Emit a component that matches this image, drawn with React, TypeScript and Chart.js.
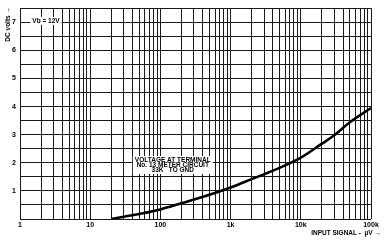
import React, { useEffect, useRef } from "react";
import { Chart, registerables } from "chart.js";

Chart.register(...registerables);

const inputMicroVolts = [20, 30, 50, 100, 200, 500, 1000, 2000, 5000, 10000, 20000, 30000, 50000, 100000];
const dcVolts = [0, 0.08, 0.18, 0.34, 0.56, 0.86, 1.12, 1.42, 1.82, 2.18, 2.68, 2.98, 3.44, 3.95];
const decadeLabels = ["1", "10", "100", "1k", "10k", "100k"];
const yLabels = ["1", "2", "3", "4", "5", "6", "7"];
const noteLines = ["VOLTAGE AT TERMINAL", "No. 13 METER CIRCUIT", "33K   TO GND"];
const supplyNote = "Vb = 12V";
const xTitle = "INPUT SIGNAL -  \u00b5V \u2192";
const yTitle = "DC volts \u2192";

const FONT = "'Liberation Sans', Arial, sans-serif";

const textPlugin = {
  id: "textNotes",
  afterDatasetsDraw(chart: any) {
    const ctx = chart.ctx as CanvasRenderingContext2D;
    const xs = chart.scales.x;
    const ys = chart.scales.y;
    ctx.save();
    ctx.font = `bold 6.5px ${FONT}`;
    ctx.textAlign = "center";
    ctx.textBaseline = "middle";
    const cx = xs.getPixelForValue(150);
    const cy0 = ys.getPixelForValue(2.1);
    const w = Math.max(...noteLines.map((l) => ctx.measureText(l).width)) + 4;
    ctx.fillStyle = "#fff";
    ctx.fillRect(cx - w / 2, cy0 - 4, w, noteLines.length * 5 + 3);
    ctx.fillStyle = "#000";
    noteLines.forEach((l, i) => ctx.fillText(l, cx, cy0 + i * 5));
    ctx.textAlign = "left";
    const sx = xs.getPixelForValue(1.5);
    const sy = ys.getPixelForValue(7.05);
    const sw = ctx.measureText(supplyNote).width;
    ctx.fillStyle = "#fff";
    ctx.fillRect(sx - 2, sy - 4, sw + 4, 8);
    ctx.fillStyle = "#000";
    ctx.fillText(supplyNote, sx, sy);
    ctx.textAlign = "right";
    ctx.fillText(xTitle, 381, 233);
    ctx.translate(8, 7);
    ctx.rotate(-Math.PI / 2);
    ctx.textAlign = "right";
    ctx.fillText(yTitle, 0, 0);
    ctx.restore();
  },
};

export default function App() {
  const ref = useRef<HTMLCanvasElement>(null);
  useEffect(() => {
    const prevMargin = document.body.style.margin;
    document.body.style.margin = "0";
    const xTicks: number[] = [];
    for (let d = 0; d < decadeLabels.length - 1; d++) {
      for (let m = 1; m <= 9; m++) xTicks.push(m * Math.pow(10, d));
    }
    xTicks.push(Math.pow(10, decadeLabels.length - 1));
    const chart = new Chart(ref.current as HTMLCanvasElement, {
      type: "line",
      data: {
        datasets: [
          {
            data: inputMicroVolts.map((x, i) => ({ x, y: dcVolts[i] })),
            borderColor: "#000",
            borderWidth: 2.6,
            pointRadius: 0,
            cubicInterpolationMode: "monotone",
            fill: false,
          },
        ],
      },
      options: {
        animation: false,
        responsive: false,
        maintainAspectRatio: false,
        layout: { padding: { left: 0, right: 17, top: 6, bottom: 0 } },
        plugins: { legend: { display: false }, tooltip: { enabled: false } },
        scales: {
          x: {
            type: "logarithmic",
            min: 1,
            max: 100000,
            afterBuildTicks: (scale: any) => {
              scale.ticks = xTicks.map((v) => ({ value: v }));
            },
            afterFit: (scale: any) => {
              scale.height = 21;
            },
            border: { display: false },
            grid: { color: "#1a1a1a", lineWidth: 1, drawTicks: false },
            ticks: {
              autoSkip: false,
              maxRotation: 0,
              padding: 2,
              color: "#000",
              font: { family: FONT, size: 7, weight: "bold" },
              callback: (v: any) => {
                const p = Math.log10(Number(v));
                if (Math.abs(p - Math.round(p)) < 1e-6) return decadeLabels[Math.round(p)];
                return "";
              },
            },
          },
          y: {
            min: 0,
            max: 7.5,
            afterFit: (scale: any) => {
              scale.width = 20;
            },
            border: { display: false },
            grid: { color: "#1a1a1a", lineWidth: 1, drawTicks: false },
            ticks: {
              stepSize: 0.5,
              padding: 4,
              color: "#000",
              font: { family: FONT, size: 7, weight: "bold" },
              callback: (v: any) => {
                const n = Number(v);
                if (Number.isInteger(n) && n >= 1) return yLabels[n - 1] ?? "";
                return "";
              },
            },
          },
        },
      },
      plugins: [textPlugin],
    } as any);
    return () => {
      chart.destroy();
      document.body.style.margin = prevMargin;
    };
  }, []);
  return (
    <div style={{ width: 388, height: 240, background: "#fff" }}>
      <canvas ref={ref} width={388} height={240} style={{ display: "block" }} />
    </div>
  );
}
